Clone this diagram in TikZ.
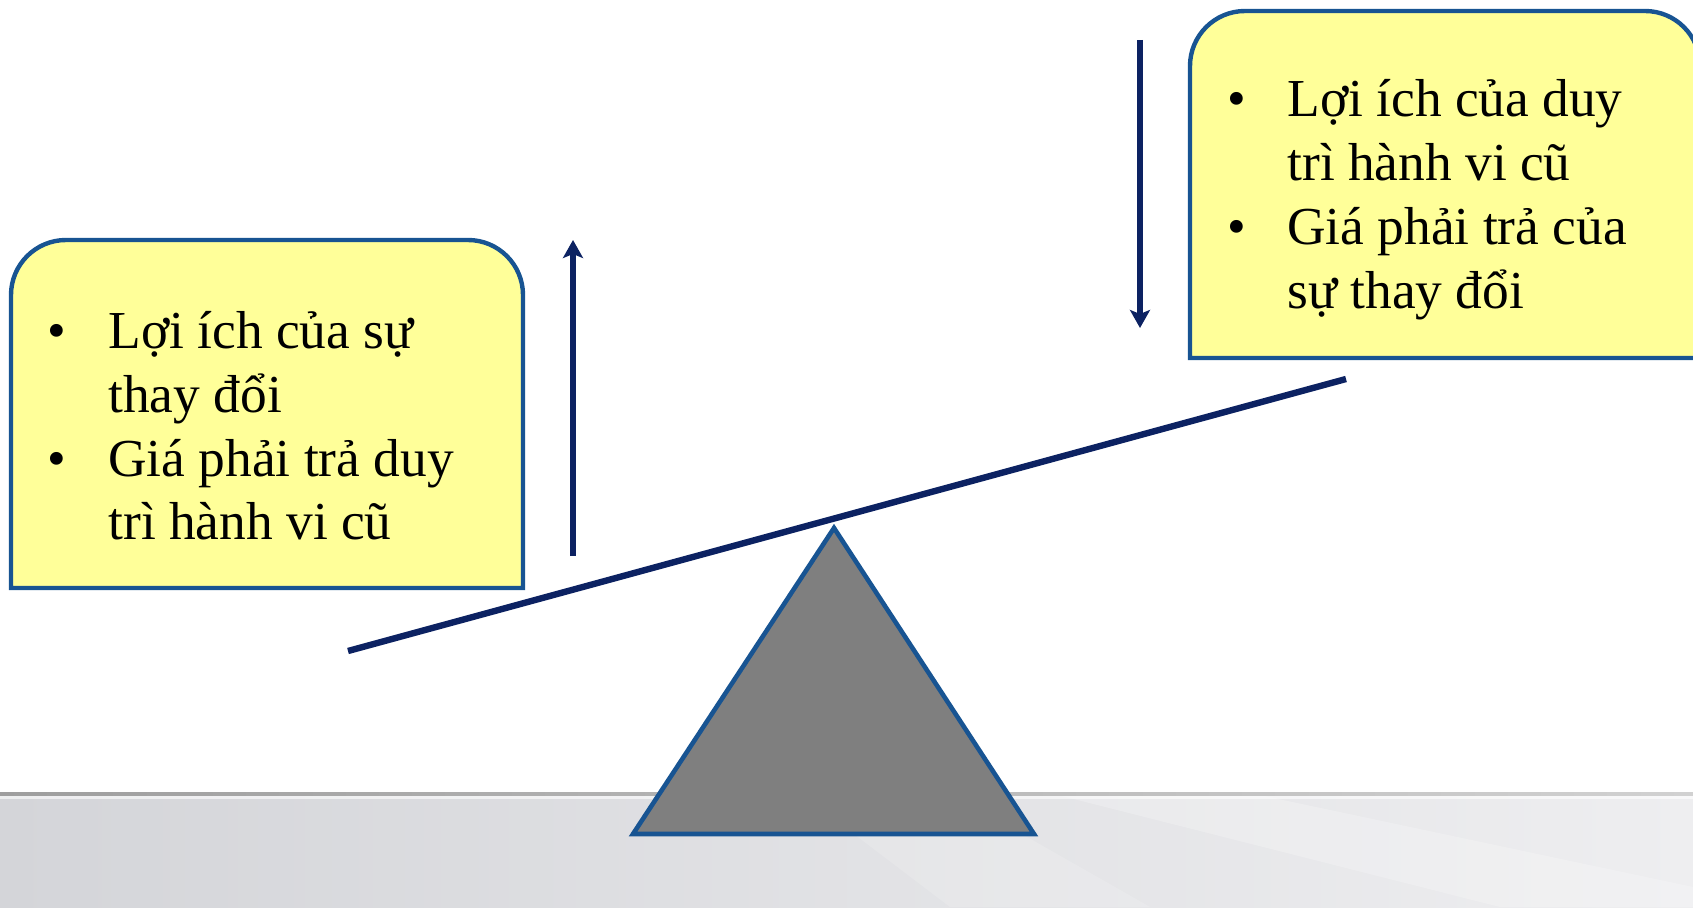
\documentclass[tikz,border=0pt]{standalone}
\usepackage{fontspec}
\setmainfont{Liberation Serif}
\usetikzlibrary{arrows.meta}
\definecolor{boxfill}{RGB}{255,255,153}
\definecolor{boxline}{RGB}{24,84,146}
\definecolor{navy}{RGB}{12,34,98}
\definecolor{trifill}{RGB}{127,127,127}
\definecolor{floorL}{RGB}{212,213,217}
\definecolor{floorR}{RGB}{238,238,240}
\tikzset{
  panel/.style={draw=boxline, fill=boxfill, line width=2.2pt},
  beam/.style={draw=navy, line width=3.2pt},
  force/.style={draw=navy, line width=2.8pt, -{Stealth[length=9pt,width=10pt,inset=2pt]}},
  pivot/.style={draw=boxline, fill=trifill, line width=2.3pt, line join=miter},
  label/.style={inner sep=0pt, anchor=base west, font=\fontsize{26.7}{32}\selectfont}
}
\begin{document}
\begin{tikzpicture}[x=0.5pt,y=0.5pt]
\useasboundingbox (0,0) rectangle (1693,907);
% floor
\shade[left color=floorL, right color=floorR] (0,0) rectangle (1693,114);
\fill[white, opacity=0.22] (1050,114) -- (1250,114) -- (1693,20) -- (1693,0) -- (1500,0) -- cycle;
\fill[white, opacity=0.15] (800,114) -- (950,114) -- (1150,0) -- (950,0) -- cycle;
\shade[left color=black!38, right color=black!18] (0,112) rectangle (1693,115);
\fill[white,opacity=0.6] (0,108) rectangle (1693,111);
% left box
\draw[panel] (11,319) -- (11,612) arc[start angle=180,end angle=90,radius=55]
  -- (468,667) arc[start angle=90,end angle=0,radius=55] -- (523,319) -- cycle;
% right box
\draw[panel] (1190,549) -- (1190,841) arc[start angle=180,end angle=90,radius=55]
  -- (1645,896) arc[start angle=90,end angle=0,radius=55] -- (1700,549) -- cycle;
% texts
\node[label] (lt) at (47,559) {\begin{tabular}[t]{@{}l@{}}
\makebox[30.5pt][l]{•}Lợi ích của sự\\
\hspace*{30.5pt}thay đổi\\
\makebox[30.5pt][l]{•}Giá phải trả duy\\
\hspace*{30.5pt}trì hành vi cũ
\end{tabular}};
\node[label] (rt) at (1227,790) {\begin{tabular}[t]{@{}l@{}}
\makebox[30pt][l]{•}Lợi ích của duy\\
\hspace*{30pt}trì hành vi cũ\\
\makebox[30pt][l]{•}Giá phải trả của\\
\hspace*{30pt}sự thay đổi
\end{tabular}};
% arrows
\coordinate (ua) at (573,351);
\coordinate (ub) at (573,667);
\coordinate (da) at (1140,867);
\coordinate (db) at (1140,579);
\draw[force] (ua) -- (ub);
\draw[force] (da) -- (db);
% pivot triangle
\coordinate (apex) at (834,379);
\coordinate (bl) at (633,73);
\coordinate (br) at (1034,73);
\draw[pivot] (apex) -- (bl) -- (br) -- cycle;
% beam
\coordinate (b1) at (348,256);
\coordinate (b2) at (1346,528);
\draw[beam] (b1) -- (b2);
\end{tikzpicture}
\end{document}
